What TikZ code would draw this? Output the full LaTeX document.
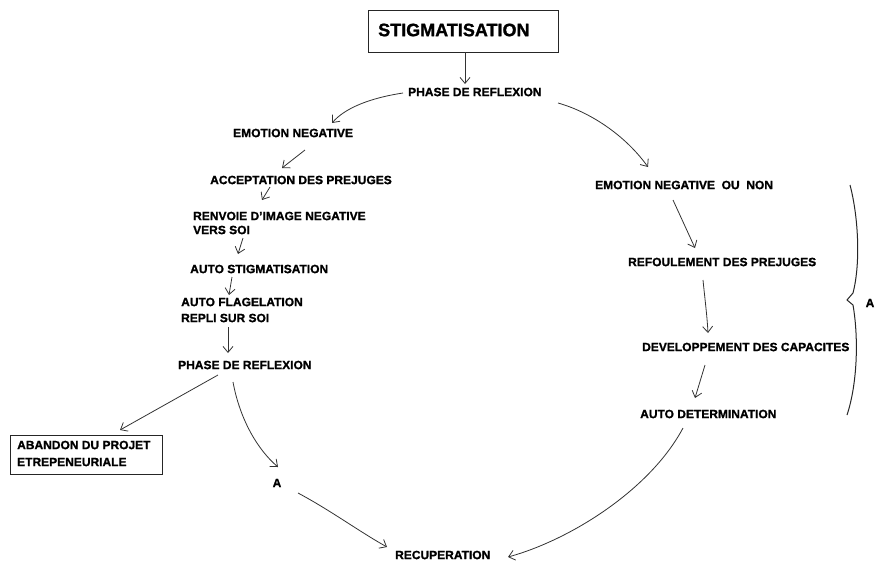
\documentclass[tikz,border=0pt]{standalone}
\usepackage{fontspec}
\setmainfont[BoldFeatures={FakeBold=1.2}]{Liberation Sans}
\usetikzlibrary{arrows.meta}
\begin{document}
\begin{tikzpicture}[x=1pt,y=-1pt,
  lbl/.style={font=\bfseries\fontsize{12}{14}\selectfont, inner sep=0pt, anchor=west, align=left},
  conn/.style={draw=black!80, line width=0.8pt, -{Straight Barb[length=6pt,width=10pt]}},
  boxed/.style={draw=black!85, line width=1pt}]
\useasboundingbox (0,0) rectangle (876,563);
% top box
\draw[boxed] (368,10) rectangle (558,52);
\node[lbl, font=\bfseries\fontsize{18}{20}\selectfont] (stig) at (378,30) {STIGMATISATION};
\coordinate (stigb) at (465,52);
\node[lbl] (ph1) at (408,92) {PHASE DE REFLEXION};
% left branch
\node[lbl] (emo) at (233,133) {EMOTION NEGATIVE};
\node[lbl] (acc) at (210,180) {ACCEPTATION DES PREJUGES};
\node[lbl, font=\bfseries\fontsize{12}{14}\selectfont] (ren) at (193,223) {RENVOIE D'IMAGE NEGATIVE\\VERS SOI};
\node[lbl] (ast) at (190,269) {AUTO STIGMATISATION};
\node[lbl, font=\bfseries\fontsize{12}{16}\selectfont] (afl) at (181,310) {AUTO FLAGELATION\\REPLI SUR SOI};
\node[lbl] (ph2) at (178,365) {PHASE DE REFLEXION};
\draw[boxed] (10,435) rectangle (162,474);
\node[lbl, font=\bfseries\fontsize{12}{17}\selectfont] (aband) at (17,453.5) {ABANDON DU PROJET\\ETREPENEURIALE};
\node[lbl, anchor=center] (a1) at (277,483) {A};
\node[lbl] (recup) at (395,555) {RECUPERATION};
% right branch
\node[lbl] (emo2) at (595,185) {EMOTION NEGATIVE\ \ OU\ \ NON};
\node[lbl] (ref) at (628,262) {REFOULEMENT DES PREJUGES};
\node[lbl] (dev) at (642,347) {DEVELOPPEMENT DES CAPACITES};
\node[lbl, anchor=center] (a2) at (870,303) {A};
\node[lbl] (adet) at (640,414) {AUTO DETERMINATION};
% connector end points
\coordinate (c1) at (465,84);
\coordinate (c2s) at (403,93);  \coordinate (c2e) at (332,123);
\coordinate (c3s) at (305,150); \coordinate (c3e) at (282,168);
\coordinate (c4s) at (270,187); \coordinate (c4e) at (262,200);
\coordinate (c5s) at (243,238); \coordinate (c5e) at (238,254);
\coordinate (c6s) at (232,277); \coordinate (c6e) at (229,295);
\coordinate (c7s) at (228,327); \coordinate (c7e) at (228,353);
\coordinate (c8s) at (218,375); \coordinate (c8e) at (120,430);
\coordinate (c9s) at (233,382); \coordinate (c9e) at (278,467);
\coordinate (c10s) at (298,493); \coordinate (c10e) at (387,547);
\coordinate (c11s) at (683,428); \coordinate (c11e) at (508,557);
\coordinate (c12s) at (558,103); \coordinate (c12e) at (648,167);
\coordinate (c13s) at (673,200); \coordinate (c13e) at (695,248);
\coordinate (c14s) at (703,280); \coordinate (c14e) at (708,333);
\coordinate (c15s) at (705,365); \coordinate (c15e) at (695,398);
% connectors
\draw[conn] (stigb) -- (c1);
\draw[conn] (c2s) .. controls (370,98) and (345,108) .. (c2e);
\draw[conn] (c3s) -- (c3e);
\draw[conn] (c4s) -- (c4e);
\draw[conn] (c5s) -- (c5e);
\draw[conn] (c6s) -- (c6e);
\draw[conn] (c7s) -- (c7e);
\draw[conn] (c8s) -- (c8e);
\draw[conn] (c9s) .. controls (240,420) and (258,450) .. (c9e);
\draw[conn] (c10s) .. controls (330,510) and (360,532) .. (c10e);
\draw[conn] (c11s) .. controls (650,490) and (570,540) .. (c11e);
\draw[conn] (c12s) .. controls (590,112) and (625,135) .. (c12e);
\draw[conn] (c13s) -- (c13e);
\draw[conn] (c14s) .. controls (705,300) and (707,315) .. (c14e);
\draw[conn] (c15s) -- (c15e);
% brace
\draw[draw=black!85, line width=1pt] (850,185) .. controls (858,215) and (861,262) .. (853,293) -- (847,300) -- (853,305) .. controls (859,340) and (857,385) .. (847,415);
\end{tikzpicture}
\end{document}
